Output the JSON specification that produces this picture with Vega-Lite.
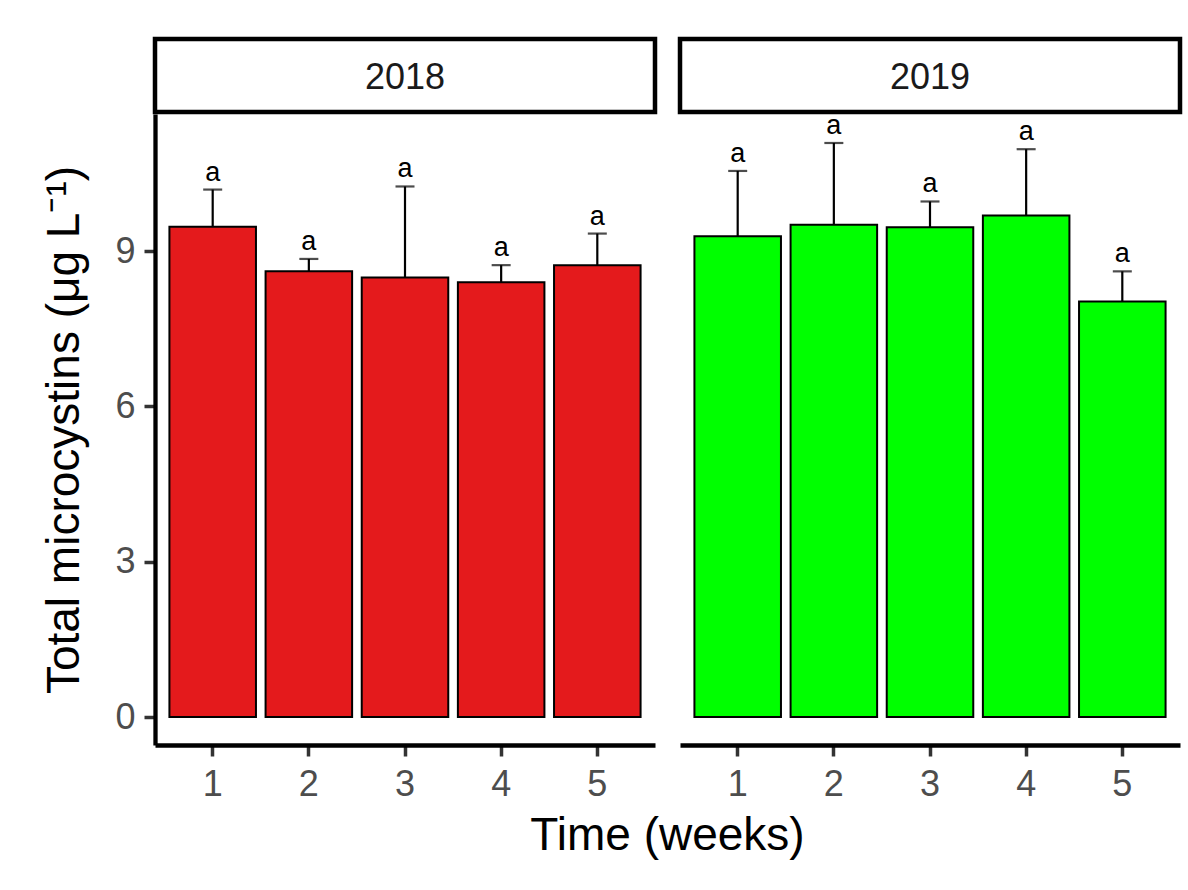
{
  "$schema": "https://vega.github.io/schema/vega-lite/v6.json",
  "background": "white",
  "padding": {"left": 41, "top": 36, "right": 8, "bottom": 8},
  "datasets": {
    "strips": [{"year": "2018"}, {"year": "2019"}],
    "micro": [
      {"year": 2018, "week": 1, "mean": 9.47, "upper": 10.19, "label": "a"},
      {"year": 2018, "week": 2, "mean": 8.61, "upper": 8.85, "label": "a"},
      {"year": 2018, "week": 3, "mean": 8.49, "upper": 10.25, "label": "a"},
      {"year": 2018, "week": 4, "mean": 8.40, "upper": 8.73, "label": "a"},
      {"year": 2018, "week": 5, "mean": 8.73, "upper": 9.34, "label": "a"},
      {"year": 2019, "week": 1, "mean": 9.29, "upper": 10.55, "label": "a"},
      {"year": 2019, "week": 2, "mean": 9.51, "upper": 11.09, "label": "a"},
      {"year": 2019, "week": 3, "mean": 9.46, "upper": 9.96, "label": "a"},
      {"year": 2019, "week": 4, "mean": 9.69, "upper": 10.97, "label": "a"},
      {"year": 2019, "week": 5, "mean": 8.03, "upper": 8.61, "label": "a"}
    ]
  },
  "columns": 2,
  "bounds": "flush",
  "spacing": {"row": 2, "column": 25},
  "concat": [
    {
      "width": 500, "height": 73,
      "data": {"name": "strips"},
      "transform": [{"filter": "datum.year == '2018'"}],
      "view": {"stroke": "black", "strokeWidth": 4.5, "fill": "white"},
      "mark": {"type": "text", "fontSize": 36, "font": "Liberation Sans", "color": "#1A1A1A", "baseline": "middle", "dy": 2},
      "encoding": {"text": {"field": "year"}}
    },
    {
      "width": 500, "height": 73,
      "data": {"name": "strips"},
      "transform": [{"filter": "datum.year == '2019'"}],
      "view": {"stroke": "black", "strokeWidth": 4.5, "fill": "white"},
      "mark": {"type": "text", "fontSize": 36, "font": "Liberation Sans", "color": "#1A1A1A", "baseline": "middle", "dy": 2},
      "encoding": {"text": {"field": "year"}}
    },
    {
      "width": 500, "height": 631,
      "data": {"name": "micro"},
      "transform": [{"filter": "datum.year == 2018"}],
      "encoding": {
        "x": {"field": "week", "type": "ordinal",
              "scale": {"paddingInner": 0.1, "paddingOuter": 0.15},
              "axis": {"labelAngle": 0, "labelPadding": 11, "title": "Time (weeks)", "titleX": 512, "titleAlign": "center", "titlePadding": 11}}
      },
      "layer": [
        {
          "mark": {"type": "bar", "fill": "#E41A1C", "stroke": "black", "strokeWidth": 2},
          "encoding": {
            "y": {"field": "mean", "type": "quantitative",
                  "scale": {"domain": [-0.54, 11.65], "nice": false, "zero": false},
                  "title": "Total microcystins (μg L⁻¹)",
                  "axis": {"values": [0, 3, 6, 9], "labelPadding": 9, "titlePadding": 26}}
          }
        },
        {
          "mark": {"type": "rule", "strokeWidth": 2.2, "color": "black"},
          "encoding": {
            "y": {"field": "mean", "type": "quantitative", "title": "Total microcystins (μg L⁻¹)"},
            "y2": {"field": "upper"}
          }
        },
        {
          "mark": {"type": "tick", "size": 19, "thickness": 2.2, "color": "black"},
          "encoding": {
            "y": {"field": "upper", "type": "quantitative", "title": "Total microcystins (μg L⁻¹)"}
          }
        },
        {
          "mark": {"type": "text", "fontSize": 27, "font": "Liberation Sans", "color": "black", "baseline": "alphabetic", "dy": -9},
          "encoding": {
            "y": {"field": "upper", "type": "quantitative", "title": "Total microcystins (μg L⁻¹)"},
            "text": {"field": "label"}
          }
        }
      ]
    },
    {
      "width": 500, "height": 631,
      "data": {"name": "micro"},
      "transform": [{"filter": "datum.year == 2019"}],
      "encoding": {
        "x": {"field": "week", "type": "ordinal",
              "scale": {"paddingInner": 0.1, "paddingOuter": 0.15},
              "axis": {"labelAngle": 0, "labelPadding": 11, "title": null}}
      },
      "layer": [
        {
          "mark": {"type": "bar", "fill": "#00FF00", "stroke": "black", "strokeWidth": 2},
          "encoding": {
            "y": {"field": "mean", "type": "quantitative",
                  "scale": {"domain": [-0.54, 11.65], "nice": false, "zero": false},
                  "axis": null}
          }
        },
        {
          "mark": {"type": "rule", "strokeWidth": 2.2, "color": "black"},
          "encoding": {
            "y": {"field": "mean", "type": "quantitative", "axis": null},
            "y2": {"field": "upper"}
          }
        },
        {
          "mark": {"type": "tick", "size": 19, "thickness": 2.2, "color": "black"},
          "encoding": {
            "y": {"field": "upper", "type": "quantitative", "axis": null}
          }
        },
        {
          "mark": {"type": "text", "fontSize": 27, "font": "Liberation Sans", "color": "black", "baseline": "alphabetic", "dy": -9},
          "encoding": {
            "y": {"field": "upper", "type": "quantitative", "axis": null},
            "text": {"field": "label"}
          }
        }
      ]
    }
  ],
  "config": {
    "font": "Liberation Sans",
    "view": {"stroke": null},
    "axis": {
      "grid": false,
      "domainColor": "black",
      "domainWidth": 4.3,
      "tickColor": "#333333",
      "tickWidth": 3.5,
      "tickSize": 11,
      "labelFontSize": 36,
      "labelColor": "#4D4D4D",
      "labelFont": "Liberation Sans",
      "titleFont": "Liberation Sans",
      "titleFontSize": 46,
      "titleFontWeight": "normal",
      "titleColor": "black"
    }
  }
}
